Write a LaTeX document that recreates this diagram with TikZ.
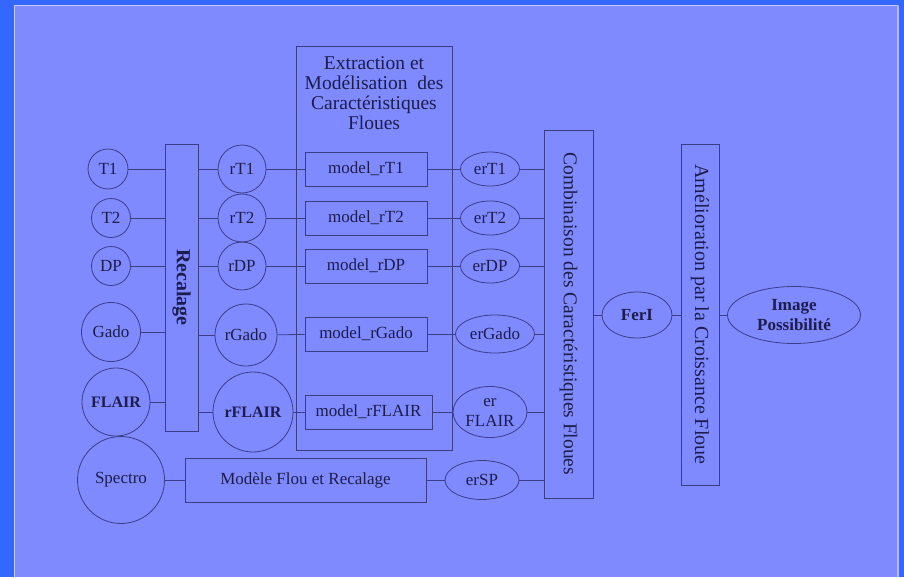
\documentclass[tikz,border=0pt]{standalone}
\usepackage{fontspec}
\setmainfont{Liberation Serif}
\usetikzlibrary{shapes.geometric,calc}

\definecolor{frameblue}{HTML}{3467FE}
\definecolor{panel}{HTML}{7F8AFE}
\definecolor{edge}{HTML}{3A3E88}
\definecolor{ink}{HTML}{1C1D4C}
\definecolor{rim}{HTML}{C9CCF4}

\tikzset{
  txt/.style={font=\fontsize{17}{20}\selectfont, text=ink, align=center, inner sep=0pt},
  bigtxt/.style={font=\fontsize{19.5}{20}\selectfont, text=ink, align=center, inner sep=0pt},
  disc/.style={txt, circle, draw=edge, line width=0.8pt, minimum size=#1},
  oval/.style n args={2}{txt, ellipse, draw=edge, line width=0.8pt, minimum width=#1, minimum height=#2},
  box/.style n args={2}{txt, rectangle, draw=edge, line width=0.8pt, minimum width=#1, minimum height=#2},
  wire/.style={draw=edge, line width=0.8pt},
}

\begin{document}
\begin{tikzpicture}[x=1pt, y=-1pt]
  % page and panel
  \fill[frameblue] (0,0) rectangle (904,577);
  \fill[panel] (14,5) rectangle (899,577);
  \draw[rim, line width=1.2pt] (14.6,577) -- (14.6,5.6) -- (898,5.6);
  \draw[rim!70!panel, line width=2pt] (897.5,5.6) -- (897.5,577);
  \useasboundingbox (0,0) rectangle (904,577);

  % input images
  \node[disc=40] (T1) at (108,169) {T1};
  \node[disc=39] (T2) at (111,218) {T2};
  \node[disc=39] (DP) at (111,266) {DP};
  \node[disc=59] (Gado) at (111,332) {Gado};
  \node[disc=68, font=\fontsize{16}{20}\selectfont\bfseries] (FLAIR) at (116,402) {FLAIR};
  \node[disc=87] (Spectro) at (121,480) {Spectro};

  % registration
  \node[box={33}{287}] (Recal) at (181.5,287.5)
    {\rotatebox{-90}{\fontsize{20}{20}\selectfont\bfseries Recalage}};

  % registered images
  \node[disc=48] (rT1) at (242,169) {rT1};
  \node[disc=48] (rT2) at (242,218) {rT2};
  \node[disc=48] (rDP) at (242,266) {rDP};
  \node[disc=62] (rGado) at (246,335) {rGado};
  \node[disc=80, font=\fontsize{16}{20}\selectfont\bfseries] (rFLAIR) at (253,412) {rFLAIR};

  % feature extraction block
  \node[box={156}{404}] (Extr) at (374,248) {};
  \node[bigtxt, anchor=north] (ExtrTitle) at (374,56.5)
    {Extraction et\\Modélisation\ \ des\\Caractéristiques\\Floues};
  \node[box={122}{34}] (mT1) at (366,169) {model\_rT1};
  \node[box={122}{34}] (mT2) at (366,218) {model\_rT2};
  \node[box={122}{34}] (mDP) at (366,266) {model\_rDP};
  \node[box={122}{34}] (mGado) at (366,334) {model\_rGado};
  \node[box={127}{34}] (mFLAIR) at (368.5,412) {model\_rFLAIR};

  % spectroscopy branch
  \node[box={241}{44}] (MFR) at (305.5,480) {Modèle Flou et Recalage};

  % fuzzy feature maps
  \node[oval={59}{34}] (erT1) at (490,169) {erT1};
  \node[oval={59}{34}] (erT2) at (490,218) {erT2};
  \node[oval={59}{34}] (erDP) at (490,266) {erDP};
  \node[oval={79}{38}] (erGado) at (495,334) {erGado};
  \node[oval={74}{51}] (erFLAIR) at (490,412) {er\\FLAIR};
  \node[oval={74}{39}] (erSP) at (482,480) {erSP};

  % combination and growth
  \node[box={49}{368}] (Comb) at (568.5,314)
    {\rotatebox{-90}{\fontsize{19.5}{20}\selectfont Combinaison des Caractéristiques Floues}};
  \node[oval={70}{46}, font=\fontsize{17}{20}\selectfont\bfseries] (FerI) at (637,315) {FerI};
  \node[box={38}{341}] (Amel) at (700,314.5)
    {\rotatebox{-90}{\fontsize{20}{20}\selectfont Amélioration par la Croissance Floue}};
  \node[oval={133}{57}, font=\fontsize{17}{20}\selectfont\bfseries] (Img) at (794,315) {Image\\Possibilité};

  % inputs to registration
  \foreach \n in {T1,T2,DP,Gado,FLAIR}
    \draw[wire] (\n) -- (\n -| Recal.west);
  % registration to registered images
  \foreach \n in {rT1,rT2,rDP,rGado,rFLAIR}
    \draw[wire] (\n -| Recal.east) -- (\n);
  % registered images to models to feature maps
  \draw[wire] (rT1) -- (mT1);  \draw[wire] (mT1) -- (erT1);
  \draw[wire] (rT2) -- (mT2);  \draw[wire] (mT2) -- (erT2);
  \draw[wire] (rDP) -- (mDP);  \draw[wire] (mDP) -- (erDP);
  \draw[wire] (rGado) -- (mGado);  \draw[wire] (mGado) -- (erGado);
  \draw[wire] (rFLAIR) -- (mFLAIR);  \draw[wire] (mFLAIR) -- (erFLAIR);
  \draw[wire] (Spectro) -- (MFR);  \draw[wire] (MFR) -- (erSP);
  % feature maps to combination
  \foreach \n in {erT1,erT2,erDP,erGado,erFLAIR,erSP}
    \draw[wire] (\n) -- (\n -| Comb.west);
  % output chain
  \draw[wire] (FerI -| Comb.east) -- (FerI);
  \draw[wire] (FerI) -- (FerI -| Amel.west);
  \draw[wire] (Img -| Amel.east) -- (Img);
\end{tikzpicture}
\end{document}
